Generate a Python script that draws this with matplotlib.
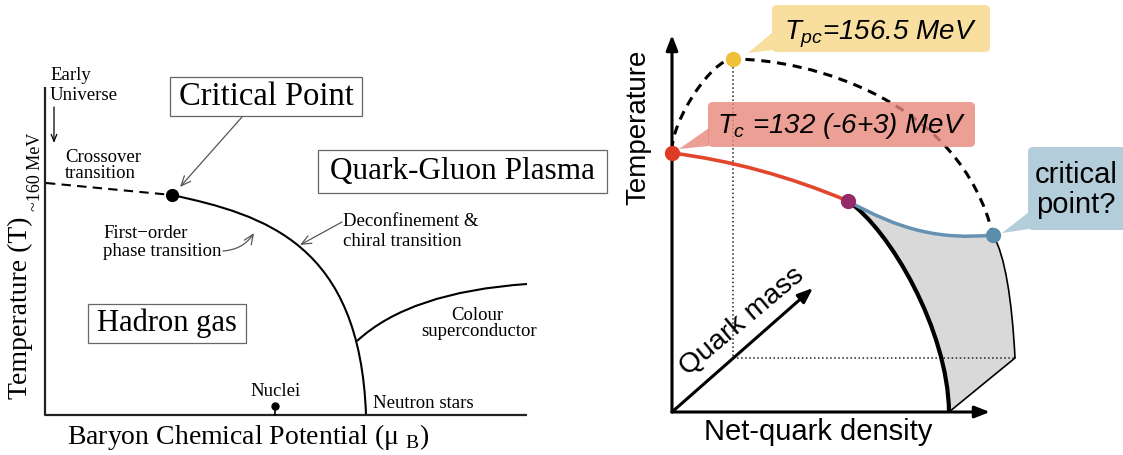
import numpy as np
import matplotlib.pyplot as plt
from matplotlib.path import Path
from matplotlib.patches import PathPatch, Rectangle, FancyBboxPatch, Polygon

plt.rcParams['mathtext.fontset'] = 'custom'
plt.rcParams['mathtext.rm'] = 'Liberation Serif'
plt.rcParams['mathtext.it'] = 'Liberation Sans:italic'

SERIF = 'Liberation Serif'
SANS = 'Liberation Sans'

# Left sketch: mu_B - T phase diagram (canvas pixels, y grows downward)
crossover = [(46, 183), (172, 195)]
first_order = [(172, 195), (265, 215), (360, 244), (366, 415)]
superconductor = [(357, 341), (410, 292), (527, 284)]
critical_point = (172, 195)
nuclei = (275, 406)

# Right sketch: temperature / net-quark density / quark mass
origin = (672, 412)
t_axis_tip = (672, 35)
n_axis_tip = (990, 412)
mass_axis_tip = (813, 288)
pseudo_critical = [(672, 150), (672, 120), (712, 59), (733, 59),
                   (810, 59), (960, 100), (993, 235)]
chiral_line = [(672, 153), (760, 164), (848, 201)]
first_order_edge = [(848, 201), (890, 230), (948, 330), (949, 412)]
critical_line = [(848, 201), (900, 230), (940, 240), (993, 235)]
far_edge = [(1015, 358), (1012, 300), (1005, 255), (993, 235)]
t_pc_point = (733, 59)
t_c_point = (672, 153)
tricritical = (848, 201)
cep = (993, 235)

fig = plt.figure(figsize=(11.23, 4.55), dpi=100)
ax = fig.add_axes([0, 0, 1, 1])
ax.set_xlim(0, 1123)
ax.set_ylim(455, 0)
ax.axis('off')


def curve(pts, codes=None, **kw):
    if codes is None:
        step = Path.CURVE4 if len(pts) == 4 else (Path.CURVE3 if len(pts) == 3 else Path.LINETO)
        codes = [Path.MOVETO] + [step] * (len(pts) - 1)
    ax.add_patch(PathPatch(Path(pts, codes), fill=False, capstyle='butt', **kw))


def arrow(start, end, style='->', color='black', lw=1.0, rad=0.0, z=3):
    ax.annotate('', xy=end, xytext=start,
                arrowprops=dict(arrowstyle=style, color=color, lw=lw,
                                shrinkA=0, shrinkB=0,
                                connectionstyle=f'arc3,rad={rad}'),
                zorder=z)


# ---------------- left panel ----------------
ax.plot([45, 45, 527], [87, 415, 415], color='#222222', lw=1.6, solid_capstyle='butt')

cx, cy = zip(*crossover)
ax.plot(cx, cy, color='black', lw=1.5, dashes=(4.5, 3))
curve(first_order, color='black', lw=1.5)
curve(superconductor, color='black', lw=1.5)
ax.plot(*critical_point, 'o', color='black', ms=8.5, zorder=5)

ax.plot([nuclei[0], nuclei[0]], [nuclei[1], 415], color='black', lw=1.2)
ax.plot(*nuclei, 'o', color='black', ms=5, zorder=5)

for (x0, y0, x1, y1) in [(170, 77, 362, 116), (318, 150, 607, 193), (87.5, 304, 246, 343)]:
    ax.add_patch(Rectangle((x0, y0), x1 - x0, y1 - y0, fill=False,
                           edgecolor='#666666', lw=0.9))
ax.text(266, 97, 'Critical Point', family=SERIF, fontsize=23.5, ha='center', va='center')
ax.text(462, 171, 'Quark-Gluon Plasma', family=SERIF, fontsize=22.5, ha='center', va='center')
ax.text(167, 323, 'Hadron gas', family=SERIF, fontsize=22, ha='center', va='center')

small = dict(family=SERIF, fontsize=13.5, va='center')
ax.text(50, 75, 'Early', **small)
ax.text(50, 95, 'Universe', **small)
ax.text(65, 157, 'Crossover', **small)
ax.text(65, 174, 'transition', **small)
ax.text(103, 233, 'First\u2212order', **small)
ax.text(103, 251, 'phase transition', **small)
ax.text(343, 221, 'Deconfinement &', **small)
ax.text(343, 241, 'chiral transition', **small)
ax.text(477, 315, 'Colour', ha='center', **small)
ax.text(479, 332, 'superconductor', ha='center', **small)
ax.text(276, 391, 'Nuclei', ha='center', **small)
ax.text(373, 403, 'Neutron stars', **small)

arrow((54, 107), (54, 143), style='->,head_length=0.5,head_width=0.2', lw=0.9)
arrow((242, 117), (180, 187), style='->,head_length=0.7,head_width=0.3', color='#555555', lw=0.9)
arrow((223, 251), (254, 233), style='->,head_length=0.7,head_width=0.3', color='#555555', lw=0.9, rad=0.25)
arrow((342, 222), (300, 245), style='->,head_length=0.7,head_width=0.3', color='#555555', lw=0.9)

ax.text(20.5, 308, 'Temperature (T)', family=SERIF, fontsize=20, rotation=90,
        ha='center', va='center')
ax.text(36, 172, '~160 MeV', family=SERIF, fontsize=13, rotation=90,
        ha='center', va='center')
ax.text(248, 437, 'Baryon Chemical Potential (\u03bc $_{\\rm B}$)', family=SERIF, fontsize=20,
        ha='center', va='center')

# ---------------- right panel ----------------
shade_verts = (first_order_edge + far_edge + critical_line[::-1][1:] + [(0, 0)])
shade_codes = ([Path.MOVETO] + [Path.CURVE4] * 3 + [Path.LINETO] + [Path.CURVE4] * 3
               + [Path.CURVE4] * 3 + [Path.CLOSEPOLY])
ax.add_patch(PathPatch(Path(shade_verts, shade_codes), facecolor='#d9d9d9',
                       edgecolor='none', zorder=1))
curve(far_edge, color='black', lw=1.2, zorder=2)
ax.plot([first_order_edge[-1][0], far_edge[0][0]], [first_order_edge[-1][1], far_edge[0][1]],
        color='black', lw=1.2, zorder=2)

ax.plot([t_pc_point[0], t_pc_point[0]], [t_pc_point[1], far_edge[0][1]],
        color='#222222', lw=1.1, ls=':', zorder=2)
ax.plot([t_pc_point[0], far_edge[0][0]], [far_edge[0][1], far_edge[0][1]],
        color='#222222', lw=1.1, ls=':', zorder=2)

head = '-|>,head_length=0.9,head_width=0.35'
arrow(origin, t_axis_tip, style=head, lw=2.2, z=3)
arrow(origin, n_axis_tip, style=head, lw=2.2, z=3)
arrow(origin, mass_axis_tip, style=head, lw=2.2, z=3)

curve(first_order_edge, color='black', lw=3.0, zorder=4)
curve(critical_line, color='#6592b3', lw=2.5, zorder=4)
curve(chiral_line, color='#e2462c', lw=2.6, zorder=4)
curve(pseudo_critical, codes=[Path.MOVETO] + [Path.CURVE4] * 6,
      color='black', lw=2.2, linestyle=(0, (3.0, 2.2)), zorder=3)

# callout labels
ax.add_patch(FancyBboxPatch((772, 5), 218, 47, boxstyle='round,pad=0,rounding_size=5',
                            facecolor='#f8df9f', edgecolor='none', zorder=5))
ax.add_patch(Polygon([(773, 32), (748, 53), (773, 50)], facecolor='#f8df9f',
                     edgecolor='none', zorder=5))
ax.text(880, 40, r'$T_{pc}$=156.5 MeV', family=SANS, style='italic', fontsize=20,
        ha='center', va='baseline', zorder=6)

ax.add_patch(FancyBboxPatch((708, 102), 267, 45, boxstyle='round,pad=0,rounding_size=5',
                            facecolor='#e8887b', alpha=0.8, edgecolor='none', zorder=5))
ax.add_patch(Polygon([(709, 128), (679, 149), (709, 146)], facecolor='#e8887b',
                     alpha=0.8, edgecolor='none', zorder=5))
ax.text(842, 133, r'$T_c$ =132 (-6+3) MeV', family=SANS, style='italic', fontsize=20,
        ha='center', va='baseline', zorder=6)

ax.add_patch(FancyBboxPatch((1028, 147), 110, 83, boxstyle='round,pad=0,rounding_size=5',
                            facecolor='#b4cddb', edgecolor='none', zorder=5))
ax.add_patch(Polygon([(1029, 212), (1002, 233), (1029, 229)], facecolor='#b4cddb',
                     edgecolor='none', zorder=5))
ax.text(1076, 183, 'critical', family=SANS, fontsize=21, ha='center', va='baseline', zorder=6)
ax.text(1076, 213, 'point?', family=SANS, fontsize=21, ha='center', va='baseline', zorder=6)

for pt, col in [(t_pc_point, '#f0c038'), (t_c_point, '#dd3b24'),
                (tricritical, '#942a68'), (cep, '#5c8dab')]:
    ax.plot(*pt, 'o', color=col, ms=10, zorder=7)

ax.text(638, 127, 'Temperature', family=SANS, fontsize=20, rotation=90,
        ha='center', va='center')
ax.text(818, 432, 'Net-quark density', family=SANS, fontsize=21, ha='center', va='center')
ax.text(742, 322, 'Quark mass', family=SANS, fontsize=20.5, rotation=40,
        rotation_mode='anchor', ha='center', va='center', zorder=6)

fig.savefig('out.png', dpi=100)
